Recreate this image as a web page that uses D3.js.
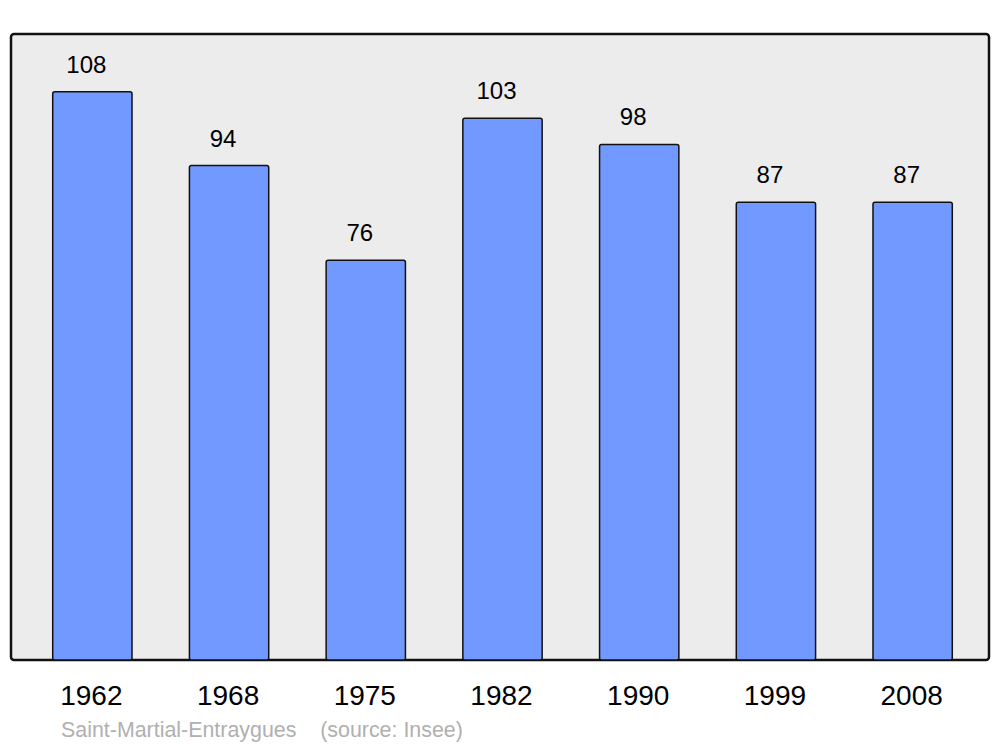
<html>
<head>
<script src="https://d3js.org/d3.v7.min.js"></script>
<style>
  body { margin: 0; background: #fff; }
  text { font-family: "Liberation Sans", Arial, sans-serif; }
</style>
</head>
<body>
<script>
var years = ['1962', '1968', '1975', '1982', '1990', '1999', '2008'];
var population = [108, 94, 76, 103, 98, 87, 87];
var commune = 'Saint-Martial-Entraygues';
var source = '(source: Insee)';

var width = 1000, height = 747;
var svg = d3.select('body').append('svg')
    .attr('width', width)
    .attr('height', height);

// grey panel behind the bars
svg.append('rect')
    .attr('x', 11).attr('y', 34)
    .attr('width', 978).attr('height', 626)
    .attr('rx', 3)
    .attr('fill', '#ececec')
    .attr('stroke', '#111')
    .attr('stroke-width', 2.5);

var x = d3.scaleBand()
    .domain(years)
    .range([24, 981])
    .paddingInner(0.42)
    .paddingOuter(0.21);

var y = d3.scaleLinear()
    .domain([0, 119])
    .range([660, 34]);

var data = years.map(function(d, i) { return {year: d, value: population[i]}; });

svg.selectAll('rect.bar')
    .data(data)
    .enter().append('rect')
    .attr('class', 'bar')
    .attr('x', function(d) { return x(d.year); })
    .attr('y', function(d) { return y(d.value); })
    .attr('width', x.bandwidth())
    .attr('height', function(d) { return y(0) - y(d.value); })
    .attr('rx', 2)
    .attr('fill', '#7299ff')
    .attr('stroke', '#111')
    .attr('stroke-width', 1.5);

svg.selectAll('text.val')
    .data(data)
    .enter().append('text')
    .attr('class', 'val')
    .attr('x', function(d) { return x(d.year) + x.bandwidth() / 2 - 6; })
    .attr('y', function(d) { return y(d.value) - 19; })
    .attr('text-anchor', 'middle')
    .attr('font-size', 24)
    .attr('fill', '#000')
    .text(function(d) { return d.value; });

svg.selectAll('text.year')
    .data(data)
    .enter().append('text')
    .attr('class', 'year')
    .attr('x', function(d) { return x(d.year) + x.bandwidth() / 2 - 1; })
    .attr('y', 705)
    .attr('text-anchor', 'middle')
    .attr('font-size', 28)
    .attr('fill', '#000')
    .text(function(d) { return d.year; });

svg.append('text')
    .attr('x', 61).attr('y', 737)
    .attr('font-size', 21.4)
    .attr('fill', '#b0b0b0')
    .attr('xml:space', 'preserve')
    .style('white-space', 'pre')
    .text(commune + '    ' + source);
</script>
</body>
</html>
